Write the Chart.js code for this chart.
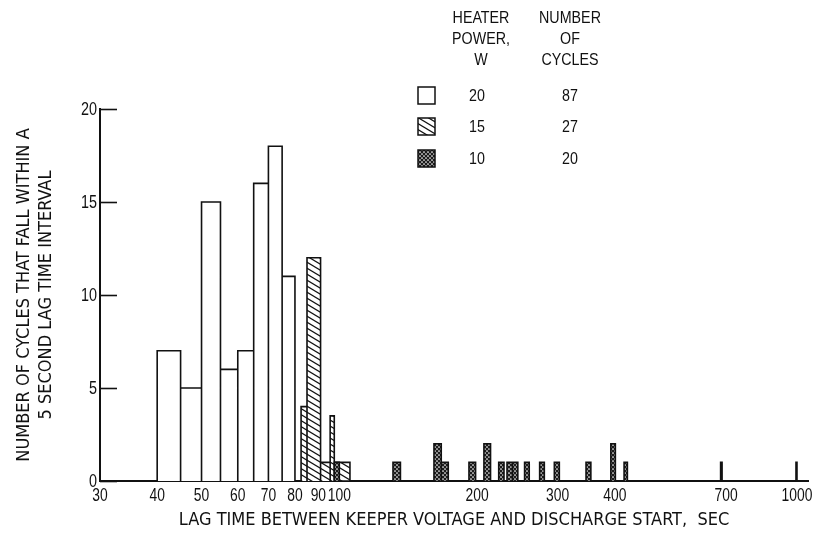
<!DOCTYPE html>
<html>
<head>
<meta charset="utf-8">
<script src="https://cdn.jsdelivr.net/npm/chart.js@4.4.1/dist/chart.umd.min.js"></script>
<style>
  html, body { margin: 0; padding: 0; background: #fff; }
  #wrap { position: relative; width: 820px; height: 535px; overflow: hidden; }
  #c { position: absolute; left: 0; top: 0; }
  .t { position: absolute; transform: translate(-50%, -50%) scaleX(0.84); white-space: nowrap;
       font-family: 'Liberation Sans', Arial, sans-serif;
       font-size: 17px; color: #111; line-height: 1; }
  .sw { position: absolute; }
</style>
</head>
<body>
<div id="wrap">
  <canvas id="c" width="820" height="535"></canvas>
  <div id="legend"></div>
</div>
<script>
// Lag-time histogram, 5 s bins: [start, end] in seconds and cycle counts per bin
const power20Bins = [[40, 45], [45, 50], [50, 55], [55, 60], [60, 65], [65, 70], [70, 75], [75, 80]];
const power20Counts = [7, 5, 15, 6, 7, 16, 18, 11];

const power15Bins = [[82.5, 85], [85, 91], [91, 95.5], [95.5, 97.5], [97.5, 105.5]];
const power15Counts = [4, 12, 1, 3.5, 1];

const power10Bins = [[97.5, 100], [131, 136], [161, 167], [167, 173], [192, 198.5], [207, 214],
  [223, 229], [232.5, 239], [239, 245.5], [254, 260], [274, 280.5], [295, 302.5],
  [346, 354.5], [392, 401], [419, 426], [681, 686], [995, 1000]];
const power10Counts = [1, 1, 2, 1, 1, 2, 1, 1, 1, 1, 1, 1, 1, 2, 1, 1, 1];

const xTickValues = [30, 40, 50, 60, 70, 80, 90, 100, 200, 300, 400, 700, 1000];
const yTickValues = [0, 5, 10, 15, 20];

const legendPower = ['20', '15', '10'];
const legendCycles = ['87', '27', '20'];

const TITLE_FONT = "'DejaVu Sans Condensed', 'Liberation Sans', sans-serif";
const LABEL_FONT = "'Liberation Sans', Arial, sans-serif";
const INK = '#111';

// Fill patterns
function hatchPattern(target) {
  const w = 10, h = 6;
  const cv = document.createElement('canvas');
  cv.width = w; cv.height = h;
  const g = cv.getContext('2d');
  g.fillStyle = '#fff';
  g.fillRect(0, 0, w, h);
  g.strokeStyle = INK;
  g.lineWidth = 1.2;
  for (const c of [-h, 0, h]) {
    g.beginPath();
    g.moveTo(-1, c - h / w);
    g.lineTo(w + 1, c + h + h / w);
    g.stroke();
  }
  return target.createPattern(cv, 'repeat');
}
function dotPattern(target) {
  const s = 4;
  const cv = document.createElement('canvas');
  cv.width = s; cv.height = s;
  const g = cv.getContext('2d');
  g.fillStyle = '#1c1c1c';
  g.fillRect(0, 0, s, s);
  g.fillStyle = '#fff';
  for (const [px, py] of [[1, 1], [3, 3]]) {
    g.beginPath();
    g.arc(px, py, 0.85, 0, Math.PI * 2);
    g.fill();
  }
  return target.createPattern(cv, 'repeat');
}

// Rectangle outlines for each bin, traced along the baseline
function outline(bins, counts) {
  const pts = [];
  bins.forEach(([a, b], i) => {
    const h = counts[i];
    pts.push({ x: a, y: 0 }, { x: a, y: h }, { x: b, y: h }, { x: b, y: 0 });
  });
  return pts;
}

const canvas = document.getElementById('c');
const ctx = canvas.getContext('2d');
const hatch = hatchPattern(ctx);
const dots = dotPattern(ctx);

function barSeries(label, bins, counts, fill) {
  return {
    label,
    data: outline(bins, counts),
    backgroundColor: fill,
    borderColor: INK,
    borderWidth: 1.6,
    borderJoinStyle: 'miter',
    borderCapStyle: 'butt',
    fill: 'origin',
    tension: 0,
    pointRadius: 0,
    pointHoverRadius: 0,
    clip: 2
  };
}

// Short tick marks pointing into the plot from the y axis
const inwardTicks = {
  id: 'inwardTicks',
  afterDatasetsDraw(chart) {
    const y = chart.scales.y;
    const left = chart.chartArea.left;
    const c = chart.ctx;
    c.save();
    c.strokeStyle = INK;
    c.lineWidth = 1.6;
    y.ticks.forEach(t => {
      const py = Math.round(y.getPixelForValue(t.value)) + 0.5;
      c.beginPath();
      c.moveTo(left, py);
      c.lineTo(left + 17, py);
      c.stroke();
    });
    c.restore();
  }
};

// Tick labels set in a condensed face (horizontally narrowed glyphs)
const narrowTickLabels = {
  id: 'narrowTickLabels',
  afterDraw(chart) {
    const { x, y } = chart.scales;
    const c = chart.ctx;
    c.save();
    c.fillStyle = INK;
    c.font = '18px ' + LABEL_FONT;
    c.textBaseline = 'middle';
    x.ticks.forEach(t => {
      c.save();
      c.translate(x.getPixelForValue(t.value), x.top + 15);
      c.scale(0.77, 1);
      c.textAlign = 'center';
      c.fillText(String(t.value), 0, 0);
      c.restore();
    });
    y.ticks.forEach(t => {
      c.save();
      c.translate(chart.chartArea.left - 3, y.getPixelForValue(t.value) + 1);
      c.scale(0.8, 1);
      c.textAlign = 'right';
      c.fillText(String(t.value), 0, 0);
      c.restore();
    });
    c.restore();
  }
};

new Chart(ctx, {
  type: 'line',
  data: {
    datasets: [
      barSeries('10 W', power10Bins, power10Counts, dots),
      barSeries('15 W', power15Bins, power15Counts, hatch),
      barSeries('20 W', power20Bins, power20Counts, '#fff')
    ]
  },
  options: {
    responsive: false,
    animation: false,
    events: [],
    layout: { padding: { top: 109, right: 12, bottom: 0, left: 0 } },
    plugins: { legend: { display: false }, tooltip: { enabled: false } },
    scales: {
      x: {
        type: 'logarithmic',
        min: 30,
        max: 1057,
        bounds: 'data',
        grid: { display: false },
        border: { display: true, color: INK, width: 2 },
        afterBuildTicks: s => { s.ticks = xTickValues.map(v => ({ value: v })); },
        afterFit: s => { s.height = 54; },
        ticks: { display: false },
        title: {
          display: true,
          text: 'LAG TIME BETWEEN KEEPER VOLTAGE AND DISCHARGE START,  SEC',
          color: INK,
          font: { family: TITLE_FONT, size: 18 },
          padding: { top: 0, bottom: 4 }
        }
      },
      y: {
        type: 'linear',
        min: 0,
        max: 20,
        grid: { display: false },
        border: { display: true, color: INK, width: 2 },
        afterBuildTicks: s => { s.ticks = yTickValues.map(v => ({ value: v })); },
        afterFit: s => { s.width = 100; },
        ticks: { display: false },
        title: {
          display: true,
          text: ['NUMBER OF CYCLES THAT FALL WITHIN A', '5 SECOND LAG TIME INTERVAL'],
          color: INK,
          font: { family: TITLE_FONT, size: 18, lineHeight: 1.2 },
          padding: { top: 14, bottom: 0 }
        }
      }
    }
  },
  plugins: [inwardTicks, narrowTickLabels]
});

// Legend table: heater power and number of cycles per series
const legend = document.getElementById('legend');
function addText(txt, x, y) {
  const d = document.createElement('div');
  d.className = 't';
  d.textContent = txt;
  d.style.left = x + 'px';
  d.style.top = y + 'px';
  legend.appendChild(d);
}
['HEATER', 'POWER,', 'W'].forEach((s, i) => addText(s, 481, 17 + i * 21));
['NUMBER', 'OF', 'CYCLES'].forEach((s, i) => addText(s, 570, 17 + i * 21));

const swatchFills = ['#fff', 'hatch', 'dots'];
const rowY = [95, 126, 158];
rowY.forEach((ry, i) => {
  const sw = document.createElement('canvas');
  sw.className = 'sw';
  sw.width = 19; sw.height = 19;
  sw.style.left = (426 - 9.5) + 'px';
  sw.style.top = (ry - 9.5) + 'px';
  const g = sw.getContext('2d');
  g.fillStyle = swatchFills[i] === 'hatch' ? hatchPattern(g) : swatchFills[i] === 'dots' ? dotPattern(g) : '#fff';
  g.fillRect(1, 1, 17, 17);
  g.strokeStyle = INK;
  g.lineWidth = 1.5;
  g.strokeRect(1, 1, 17, 17);
  legend.appendChild(sw);
  addText(legendPower[i], 477, ry);
  addText(legendCycles[i], 570, ry);
});
</script>
</body>
</html>
